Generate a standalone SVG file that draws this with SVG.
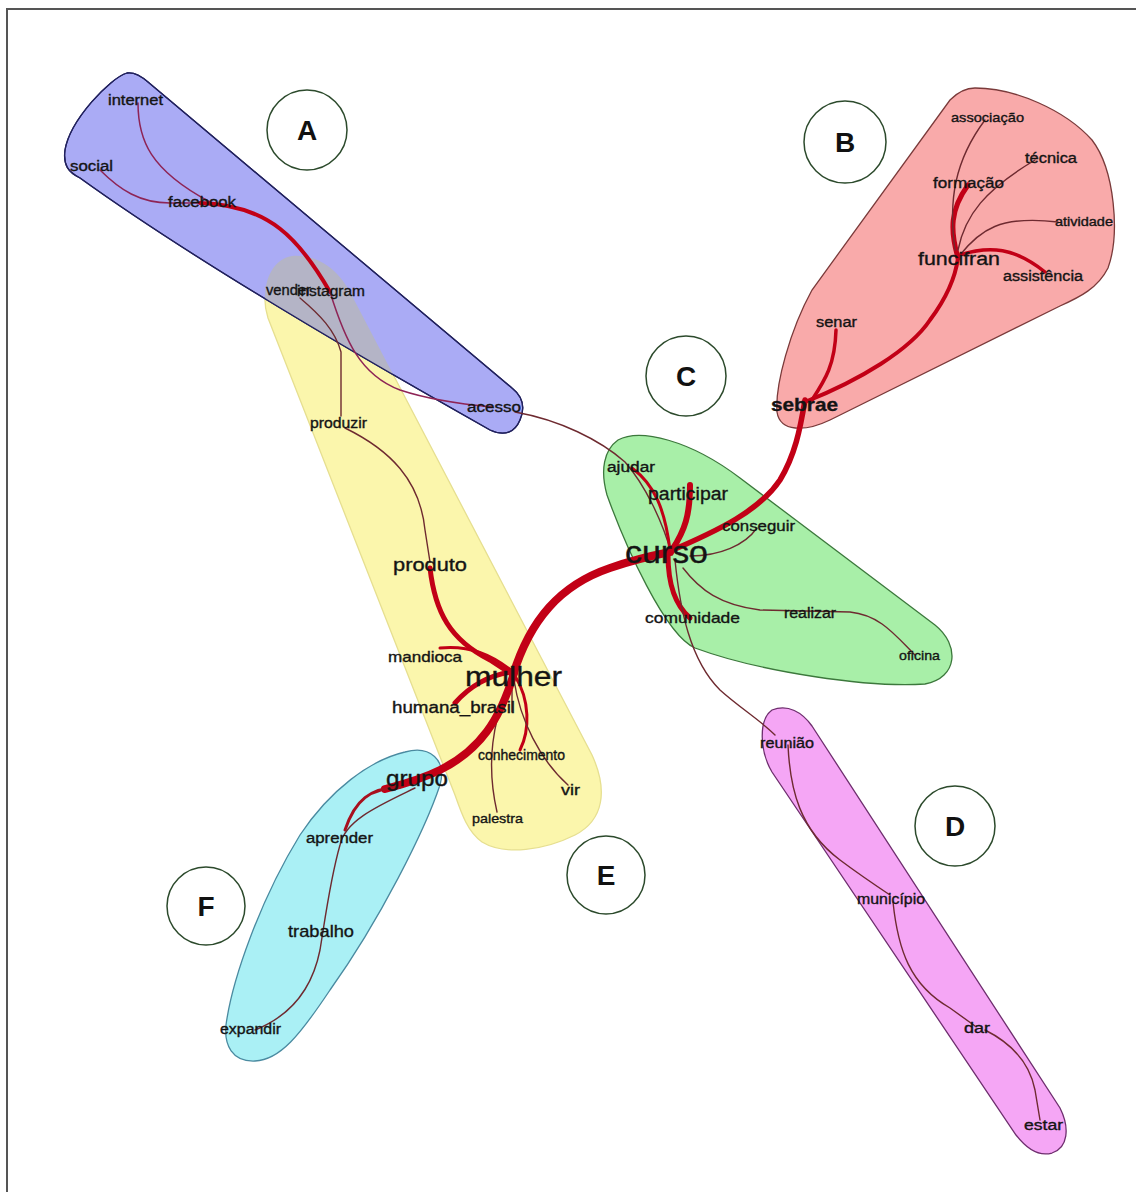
<svg xmlns="http://www.w3.org/2000/svg" xmlns:xlink="http://www.w3.org/1999/xlink" width="1136" height="1192" viewBox="0 0 1136 1192">
  <style>
    .frame { stroke: #555; stroke-width: 2; fill: none; }
    .hull { stroke-width: 1.3; }
    .hA { fill: #aaabf5; stroke: #22225e; }
    .hB { fill: #f9aaaa; stroke: #7a3a3a; }
    .hC { fill: #a8efa8; stroke: #3c783c; }
    .hD { fill: #f5a6f5; stroke: #6e2e6e; }
    .hE { fill: #fbf6ac; stroke: #e6df90; }
    .hF { fill: #aaf0f5; stroke: #4a8aa0; }
    .overlap { fill: #b4b4c6; stroke: none; }
    .e { fill: none; stroke-linecap: round; stroke-linejoin: round; }
    .thick { stroke: #c20016; }
    .mid { stroke: #a8101e; }
    .thin { stroke: #6e2a30; stroke-width: 1.4; }
    .pink { stroke: #8e2456; stroke-width: 1.5; }
    .lbl { font-family: "Liberation Sans", Arial, sans-serif; fill: #141414; stroke: #141414; stroke-width: 0.35; }
    .badge circle { fill: #ffffff; stroke: #2c4a2c; stroke-width: 1.5; }
    .badge text { font-family: "Liberation Sans", Arial, sans-serif; font-size: 28px; font-weight: bold; fill: #111; text-anchor: middle; }
  </style>
  <defs>
    <path id="pA" d="M 127,73 C 110,78 70,120 65,150 C 63,165 68,172 80,178 C 180,250 330,340 490,430 C 505,437 515,432 520,420 C 526,406 522,396 512,388 L 148,82 C 140,75 133,72 127,73 Z"/>
    <path id="pE" d="M 292,256 C 318,254 338,270 350,292 L 592,755 C 608,790 604,820 575,835 C 545,850 505,856 482,842 C 468,832 462,815 455,795 L 268,318 C 260,292 268,260 292,256 Z"/>
    <clipPath id="clipA"><use xlink:href="#pA"/></clipPath>
  </defs>

  <rect width="1136" height="1192" fill="#ffffff"/>
  <path class="frame" d="M 7,1192 L 7,9 L 1136,9"/>

  <!-- cluster hulls -->
  <g id="hulls">
    <use xlink:href="#pE" class="hull hE"/>
    <use xlink:href="#pA" class="hull hA"/>
    <use xlink:href="#pE" class="overlap" clip-path="url(#clipA)"/>
    <use xlink:href="#pA" class="hull" fill="none" stroke="#22225e"/>
    <path class="hull hB" d="M 975,88 C 1015,88 1065,110 1092,140 C 1115,170 1120,235 1108,268 C 1098,288 1080,297 1060,306 L 830,420 C 805,432 780,432 777,412 C 775,385 790,330 812,290 L 950,100 C 958,92 965,88 975,88 Z"/>
    <path class="hull hC" d="M 618,440 C 640,428 690,440 740,478 L 935,625 C 960,645 958,678 925,684 C 870,688 760,672 695,648 C 665,635 625,545 607,495 C 600,470 604,450 618,440 Z"/>
    <path class="hull hD" d="M 772,710 C 788,704 802,712 812,726 L 1060,1108 C 1070,1128 1068,1148 1052,1153 C 1038,1157 1026,1148 1016,1135 L 772,772 C 760,752 758,720 772,710 Z"/>
    <path class="hull hF" d="M 405,752 C 430,745 447,760 440,785 C 425,830 380,920 330,990 C 300,1035 280,1060 255,1061 C 232,1062 224,1045 226,1025 C 232,980 260,900 300,835 C 330,790 370,760 405,752 Z"/>
  </g>

  <!-- connectors -->
  <g id="connectors">
    <!-- cluster A -->
    <path class="e pink" d="M 138,103 C 138,140 150,170 210,202"/>
    <path class="e pink" d="M 100,170 C 120,190 140,203 170,203 L 200,203"/>
    <path class="e thick" stroke-width="4" d="M 200,203 C 270,205 300,240 330,292"/>
    <path class="e pink" d="M 330,292 C 345,340 360,375 400,390 C 430,400 460,404 492,407"/>
    <path class="e thin" d="M 515,412 C 560,420 600,440 625,462 C 645,485 662,520 672,555"/>
    <!-- vender / produzir / produto -->
    <path class="e thin" d="M 300,298 C 320,315 335,330 341,352 L 341,416"/>
    <path class="e thin" d="M 345,428 C 390,450 420,480 425,530 L 430,562"/>
    <!-- around mulher -->
    <path class="e thick" stroke-width="5" d="M 430,568 C 435,612 450,640 490,660 L 513,675"/>
    <path class="e thick" stroke-width="3" d="M 440,648 C 470,645 492,655 512,671"/>
    <path class="e thick" stroke-width="5" d="M 455,703 C 470,686 490,675 512,672"/>
    <path class="e thick" stroke-width="3" d="M 515,676 C 530,700 530,730 520,750"/>
    <path class="e thin" d="M 514,680 C 520,720 540,760 568,785"/>
    <path class="e thin" d="M 506,690 C 495,720 485,760 497,812"/>
    <path class="e thin" d="M 512,690 L 512,712"/>
    <path class="e thick" stroke-width="8" d="M 514,673 C 500,720 480,750 440,770 C 420,780 400,785 385,789"/>
    <path class="e thick" stroke-width="8" d="M 513,675 C 530,620 560,585 610,568 C 630,561 650,556 670,552"/>
    <!-- cluster F -->
    <path class="e mid" stroke-width="3" d="M 400,787 C 370,788 355,800 345,830"/>
    <path class="e thin" d="M 415,788 C 380,805 345,820 340,845 C 330,880 325,920 320,950 C 310,1000 280,1020 255,1030"/>
    <!-- cluster C -->
    <path class="e thick" stroke-width="6" d="M 672,550 C 685,530 690,515 690,485"/>
    <path class="e thick" stroke-width="3" d="M 632,468 C 655,485 665,510 670,550"/>
    <path class="e thin" d="M 690,556 C 720,556 745,545 757,528"/>
    <path class="e thick" stroke-width="5" d="M 668,555 C 668,585 675,605 690,618"/>
    <path class="e thin" d="M 683,568 C 700,590 720,605 760,610 L 850,612 C 880,615 895,635 915,655"/>
    <!-- toward D -->
    <path class="e thin" d="M 675,560 C 680,610 690,660 720,690 C 740,708 760,720 775,735"/>
    <path class="e thin" d="M 788,745 C 790,790 800,830 840,860 C 860,875 875,885 890,895"/>
    <path class="e thin" d="M 893,902 C 898,950 910,985 950,1008 L 975,1026"/>
    <path class="e thin" d="M 985,1030 C 1015,1045 1030,1065 1035,1090 L 1040,1120"/>
    <!-- toward B -->
    <path class="e thick" stroke-width="5.5" d="M 668,552 C 720,530 760,510 780,480 C 795,455 800,430 805,400"/>
    <path class="e thick" stroke-width="4" d="M 805,402 C 860,380 910,350 930,320 C 945,300 955,280 958,258"/>
    <path class="e thick" stroke-width="3.5" d="M 812,400 C 825,380 835,365 836,330"/>
    <path class="e thick" stroke-width="5" d="M 958,258 C 950,230 950,210 968,185"/>
    <path class="e thin" d="M 955,250 C 948,200 955,160 985,120"/>
    <path class="e thin" d="M 958,250 C 965,215 985,190 1035,160"/>
    <path class="e thin" d="M 960,255 C 980,230 1000,215 1058,222"/>
    <path class="e thick" stroke-width="3.5" d="M 960,255 C 990,245 1015,248 1045,272"/>
  </g>

  <!-- word nodes -->
  <g id="n-internet"><text class="lbl" x="108" y="105" font-size="14" textLength="55" lengthAdjust="spacingAndGlyphs">internet</text></g>
  <g id="n-social"><text class="lbl" x="70" y="171" font-size="14" textLength="43" lengthAdjust="spacingAndGlyphs">social</text></g>
  <g id="n-facebook"><text class="lbl" x="168" y="207" font-size="14" textLength="68" lengthAdjust="spacingAndGlyphs">facebook</text></g>
  <g id="n-vender"><text class="lbl" x="266" y="295" font-size="14" textLength="45" lengthAdjust="spacingAndGlyphs">vender</text></g>
  <g id="n-instagram"><text class="lbl" x="297" y="296" font-size="14" textLength="68" lengthAdjust="spacingAndGlyphs">instagram</text></g>
  <g id="n-acesso"><text class="lbl" x="467" y="412" font-size="14" textLength="54" lengthAdjust="spacingAndGlyphs">acesso</text></g>
  <g id="n-produzir"><text class="lbl" x="310" y="428" font-size="14" textLength="57" lengthAdjust="spacingAndGlyphs">produzir</text></g>
  <g id="n-produto"><text class="lbl" x="393" y="571" font-size="18" textLength="74" lengthAdjust="spacingAndGlyphs">produto</text></g>
  <g id="n-mandioca"><text class="lbl" x="388" y="662" font-size="15" textLength="74" lengthAdjust="spacingAndGlyphs">mandioca</text></g>
  <g id="n-mulher"><text class="lbl" x="465" y="686" font-size="28" textLength="97" lengthAdjust="spacingAndGlyphs">mulher</text></g>
  <g id="n-humana_brasil"><text class="lbl" x="392" y="713" font-size="16" textLength="123" lengthAdjust="spacingAndGlyphs">humana_brasil</text></g>
  <g id="n-conhecimento"><text class="lbl" x="478" y="760" font-size="14" textLength="87" lengthAdjust="spacingAndGlyphs">conhecimento</text></g>
  <g id="n-vir"><text class="lbl" x="561" y="795" font-size="14" textLength="19" lengthAdjust="spacingAndGlyphs">vir</text></g>
  <g id="n-palestra"><text class="lbl" x="472" y="823" font-size="13" textLength="51" lengthAdjust="spacingAndGlyphs">palestra</text></g>
  <g id="n-grupo"><text class="lbl" x="386" y="786" font-size="22" textLength="62" lengthAdjust="spacingAndGlyphs">grupo</text></g>
  <g id="n-aprender"><text class="lbl" x="306" y="843" font-size="14" textLength="67" lengthAdjust="spacingAndGlyphs">aprender</text></g>
  <g id="n-trabalho"><text class="lbl" x="288" y="937" font-size="17" textLength="66" lengthAdjust="spacingAndGlyphs">trabalho</text></g>
  <g id="n-expandir"><text class="lbl" x="220" y="1034" font-size="14" textLength="61" lengthAdjust="spacingAndGlyphs">expandir</text></g>
  <g id="n-ajudar"><text class="lbl" x="607" y="472" font-size="14" textLength="48" lengthAdjust="spacingAndGlyphs">ajudar</text></g>
  <g id="n-participar"><text class="lbl" x="648" y="500" font-size="18" textLength="80" lengthAdjust="spacingAndGlyphs">participar</text></g>
  <g id="n-conseguir"><text class="lbl" x="722" y="531" font-size="15" textLength="73" lengthAdjust="spacingAndGlyphs">conseguir</text></g>
  <g id="n-curso"><text class="lbl" x="625" y="563" font-size="32" textLength="83" lengthAdjust="spacingAndGlyphs">curso</text></g>
  <g id="n-comunidade"><text class="lbl" x="645" y="623" font-size="15" textLength="95" lengthAdjust="spacingAndGlyphs">comunidade</text></g>
  <g id="n-realizar"><text class="lbl" x="784" y="618" font-size="14" textLength="52" lengthAdjust="spacingAndGlyphs">realizar</text></g>
  <g id="n-oficina"><text class="lbl" x="899" y="660" font-size="13" textLength="41" lengthAdjust="spacingAndGlyphs">oficina</text></g>
  <g id="n-sebrae"><text class="lbl" x="771" y="411" font-size="19" font-weight="bold" textLength="67" lengthAdjust="spacingAndGlyphs">sebrae</text></g>
  <g id="n-senar"><text class="lbl" x="816" y="327" font-size="14" textLength="41" lengthAdjust="spacingAndGlyphs">senar</text></g>
  <g id="n-funcifran"><text class="lbl" x="918" y="265" font-size="18" textLength="82" lengthAdjust="spacingAndGlyphs">funcifran</text></g>
  <g id="n-formacao"><text class="lbl" x="933" y="188" font-size="15" textLength="71" lengthAdjust="spacingAndGlyphs">formação</text></g>
  <g id="n-associacao"><text class="lbl" x="951" y="122" font-size="13" textLength="73" lengthAdjust="spacingAndGlyphs">associação</text></g>
  <g id="n-tecnica"><text class="lbl" x="1025" y="163" font-size="14" textLength="52" lengthAdjust="spacingAndGlyphs">técnica</text></g>
  <g id="n-atividade"><text class="lbl" x="1055" y="226" font-size="12" textLength="58" lengthAdjust="spacingAndGlyphs">atividade</text></g>
  <g id="n-assistencia"><text class="lbl" x="1003" y="281" font-size="14" textLength="80" lengthAdjust="spacingAndGlyphs">assistência</text></g>
  <g id="n-reuniao"><text class="lbl" x="760" y="748" font-size="14" textLength="54" lengthAdjust="spacingAndGlyphs">reunião</text></g>
  <g id="n-municipio"><text class="lbl" x="857" y="904" font-size="14" textLength="68" lengthAdjust="spacingAndGlyphs">município</text></g>
  <g id="n-dar"><text class="lbl" x="964" y="1033" font-size="14" textLength="26" lengthAdjust="spacingAndGlyphs">dar</text></g>
  <g id="n-estar"><text class="lbl" x="1024" y="1130" font-size="14" textLength="39" lengthAdjust="spacingAndGlyphs">estar</text></g>

  <!-- cluster badges -->
  <g id="badge-A" class="badge"><circle cx="307" cy="130" r="40"/><text x="307" y="140">A</text></g>
  <g id="badge-B" class="badge"><circle cx="845" cy="142" r="41"/><text x="845" y="152">B</text></g>
  <g id="badge-C" class="badge"><circle cx="686" cy="376" r="40"/><text x="686" y="386">C</text></g>
  <g id="badge-D" class="badge"><circle cx="955" cy="826" r="40"/><text x="955" y="836">D</text></g>
  <g id="badge-E" class="badge"><circle cx="606" cy="875" r="39"/><text x="606" y="885">E</text></g>
  <g id="badge-F" class="badge"><circle cx="206" cy="906" r="39"/><text x="206" y="916">F</text></g>
</svg>
